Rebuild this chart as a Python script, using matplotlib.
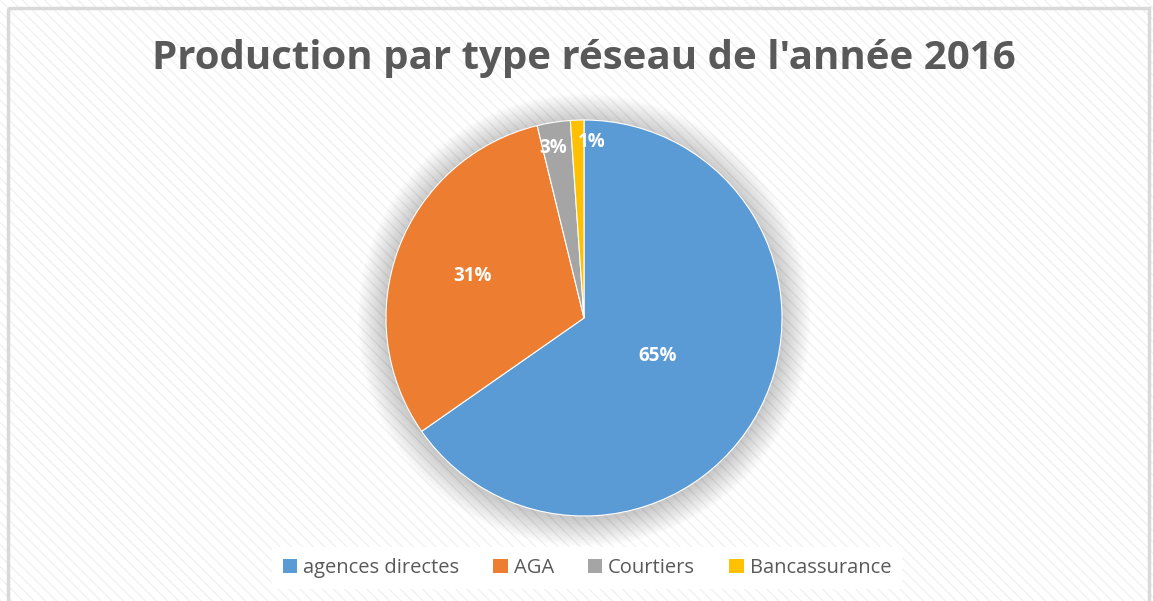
import matplotlib.pyplot as plt
import matplotlib.patches as mpatches
import numpy as np

categories = ["agences directes", "AGA", "Courtiers", "Bancassurance"]
values = [65.3, 30.9, 2.7, 1.1]
colors = ["#5B9BD5", "#ED7D31", "#A5A5A5", "#FFC000"]
title = "Production par type réseau de l'année 2016"

plt.rcParams['font.family'] = ['Open Sans', 'DejaVu Sans']

W, H = 1153, 601
fig = plt.figure(figsize=(W / 100, H / 100), dpi=100)

# hatched background with grey border
bg = fig.add_axes([0, 0, 1, 1])
bg.set_xlim(0, W)
bg.set_ylim(H, 0)
bg.axis('off')
bg.add_patch(mpatches.Rectangle((0, 0), W, H, facecolor='white', edgecolor='none'))
bg.add_patch(mpatches.Rectangle((0, 0), W, H, facecolor='none', edgecolor='#f1f1f1',
                                hatch='\\\\\\', linewidth=0))
bg.add_patch(mpatches.Rectangle((8, 8), W - 12, H, facecolor='none', edgecolor='#d9d9d9',
                                linewidth=2.5))

bg.text(584, 59, title, ha='center', va='center', fontsize=29, fontweight='bold',
        color='#595959')

# pie
cx, cy, r = 584, 318, 198
ax = fig.add_axes([(cx - r) / W, (H - cy - r) / H, 2 * r / W, 2 * r / H])

# soft shadow
for k in range(18):
    rr = 1.0 + 0.008 * (18 - k)
    ax.add_patch(mpatches.Circle((0.0, -0.01), rr, facecolor='black', edgecolor='none',
                                 alpha=0.01, clip_on=False))

wedges, _ = ax.pie(values, colors=colors, startangle=90, counterclock=False, radius=1.0,
                   wedgeprops=dict(edgecolor='white', linewidth=0.8))
ax.set_xlim(-1, 1)
ax.set_ylim(-1, 1)
ax.set_aspect('equal')
ax.axis('off')

label_r = [0.42, 0.6, 0.87, 0.89]
label_dx = [0.0, 0.0, -0.02, 0.07]
total = sum(values)
start = 90.0
for v, lr, dx in zip(values, label_r, label_dx):
    mid = start - v / total * 360 / 2
    start -= v / total * 360
    a = np.deg2rad(mid)
    ax.text(lr * np.cos(a) + dx, lr * np.sin(a), f"{round(v / total * 100):.0f}%",
            ha='center', va='center', color='white', fontweight='bold', fontsize=13.5)

handles = [mpatches.Patch(facecolor=c, edgecolor='none') for c in colors]
leg = fig.legend(handles, categories, loc='center', bbox_to_anchor=(587 / W, (H - 568) / H),
                 ncol=4, frameon=True, fontsize=14.5, handlelength=0.7, handleheight=0.7,
                 handletextpad=0.3, columnspacing=1.7, borderpad=0.55)
leg.get_frame().set_facecolor('white')
leg.get_frame().set_edgecolor('none')
leg.get_frame().set_alpha(1)
leg.get_frame().set_boxstyle('square', pad=0)
for t in leg.get_texts():
    t.set_color('#595959')

fig.savefig("out.png", dpi=100)
